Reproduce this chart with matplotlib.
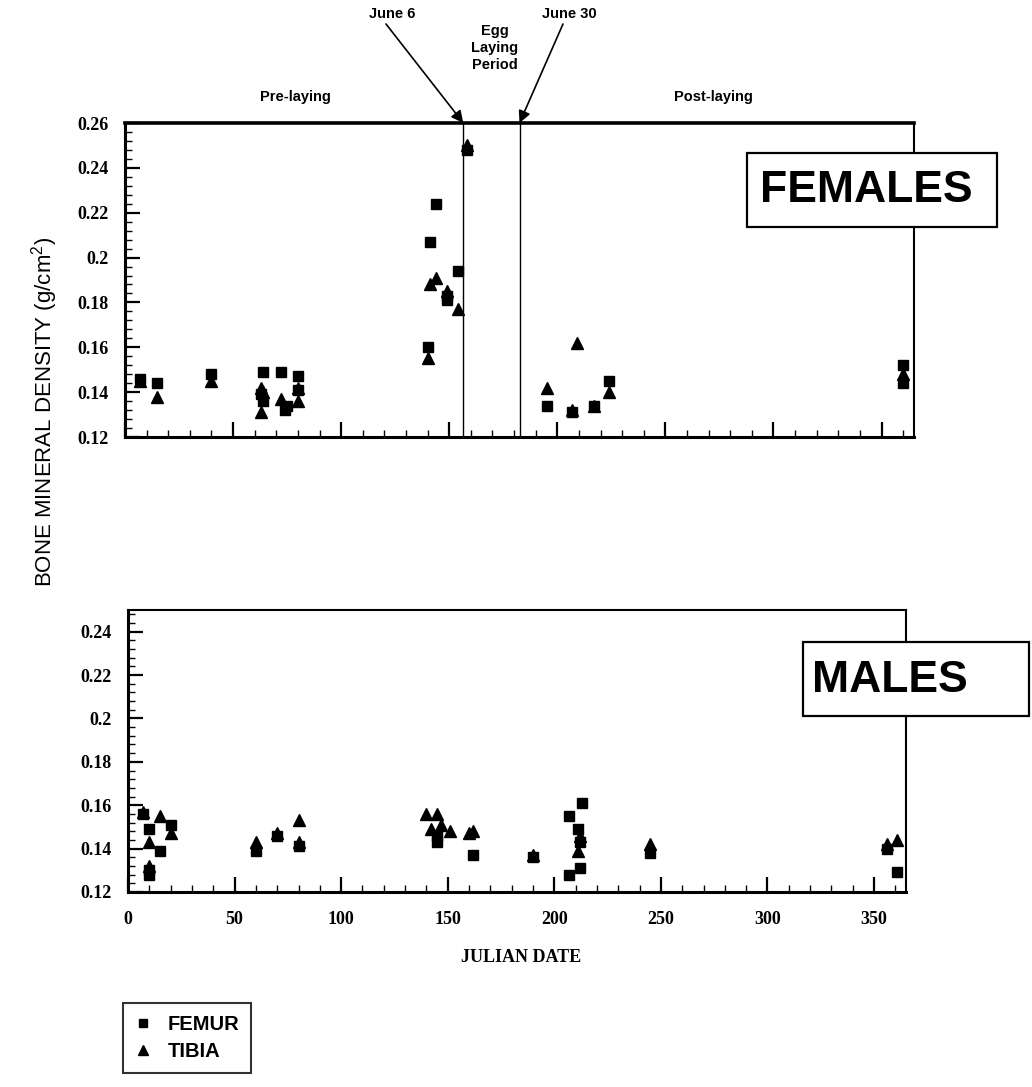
import numpy as np
from matplotlib import pyplot as plt
from matplotlib.lines import Line2D
from matplotlib.patches import Rectangle
from matplotlib.ticker import MultipleLocator

# --- data (julian day, bone mineral density g/cm2) ---
fem_femur_day = [7, 15, 40, 64, 63, 64, 72, 74, 75, 80, 80,
                 140, 141, 144, 149, 149, 154, 158,
                 195, 207, 217, 224, 360, 360]
fem_femur_bmd = [0.146, 0.144, 0.148, 0.149, 0.139, 0.136, 0.149, 0.132, 0.134, 0.147, 0.141,
                 0.160, 0.207, 0.224, 0.181, 0.183, 0.194, 0.248,
                 0.134, 0.131, 0.134, 0.145, 0.152, 0.144]
fem_tibia_day = [7, 15, 40, 63, 64, 63, 72, 80, 80,
                 140, 141, 144, 149, 154, 158,
                 195, 209, 207, 217, 224, 360]
fem_tibia_bmd = [0.145, 0.138, 0.145, 0.142, 0.140, 0.131, 0.137, 0.142, 0.136,
                 0.155, 0.188, 0.191, 0.185, 0.177, 0.250,
                 0.142, 0.162, 0.132, 0.134, 0.140, 0.148]

male_femur_day = [7, 10, 10, 10, 15, 20, 60, 70, 80, 145, 145, 162,
                  190, 207, 207, 213, 212, 211, 212, 245, 356, 361]
male_femur_bmd = [0.156, 0.149, 0.128, 0.130, 0.139, 0.151, 0.139, 0.146, 0.141, 0.143, 0.146, 0.137,
                  0.136, 0.155, 0.128, 0.161, 0.131, 0.149, 0.143, 0.138, 0.140, 0.129]
male_tibia_day = [7, 10, 10, 15, 20, 60, 70, 80, 80, 140, 145, 142, 147, 151, 160, 162,
                  190, 212, 211, 245, 356, 361]
male_tibia_bmd = [0.157, 0.143, 0.132, 0.155, 0.147, 0.143, 0.147, 0.153, 0.143,
                  0.156, 0.156, 0.149, 0.151, 0.148, 0.147, 0.148,
                  0.137, 0.146, 0.139, 0.142, 0.142, 0.144]

laying_start = 156.5  # June 6
laying_end = 182.5    # June 30

SANS = "Liberation Sans"
SERIF = "Liberation Serif"
plt.rcParams["mathtext.default"] = "regular"

W, H = 1032, 1087
fig = plt.figure(figsize=(W / 100, H / 100), dpi=100)


def fx(px):
    return px / W


def fy(py):
    return 1 - py / H


def style_axes(ax, ylim, yticks):
    ax.set_xlim(0, 365)
    ax.set_ylim(*ylim)
    ax.set_yticks(yticks)
    ax.set_yticklabels([f"{v:g}" for v in yticks])
    ax.xaxis.set_major_locator(MultipleLocator(50))
    ax.xaxis.set_minor_locator(MultipleLocator(10))
    ax.yaxis.set_minor_locator(MultipleLocator(0.004))
    ax.tick_params(which="major", direction="in", length=11, width=1.6,
                   top=False, right=False)
    ax.tick_params(which="minor", direction="in", length=5, width=1.0,
                   top=False, right=False)
    for lab in ax.get_xticklabels() + ax.get_yticklabels():
        lab.set_fontfamily(SERIF)
        lab.set_fontweight("bold")
        lab.set_fontsize(13)
    ax.tick_params(axis="y", pad=12)
    ax.tick_params(axis="x", pad=14)
    for side in ["left", "bottom"]:
        ax.spines[side].set_linewidth(2.2)
    for side in ["top", "right"]:
        ax.spines[side].set_linewidth(1.5)


def draw_points(ax, fd, fv, td, tv):
    ax.plot(td, tv, "^", color="k", markersize=8, linestyle="none")
    ax.plot(fd, fv, "s", color="k", markersize=7, linestyle="none")


# females
ax1 = fig.add_axes([fx(125), fy(437), fx(789), 314 / H])
draw_points(ax1, fem_femur_day, fem_femur_bmd, fem_tibia_day, fem_tibia_bmd)
style_axes(ax1, (0.12, 0.26), np.arange(0.12, 0.261, 0.02).round(2))
ax1.spines["top"].set_linewidth(2.6)
ax1.tick_params(axis="x", labelbottom=False)
ax1.axvline(laying_start, color="k", lw=1)
ax1.axvline(laying_end, color="k", lw=1)

# males
ax2 = fig.add_axes([fx(128), fy(892), fx(778), 282 / H])
draw_points(ax2, male_femur_day, male_femur_bmd, male_tibia_day, male_tibia_bmd)
style_axes(ax2, (0.12, 0.25), np.arange(0.12, 0.241, 0.02).round(2))

# period labels and arrows
bold_sans = dict(family=SANS, fontweight="bold", fontsize=10.5, ha="center", va="center")
fig.text(fx(295), fy(97), "Pre-laying", **bold_sans)
fig.text(fx(713), fy(97), "Post-laying", **bold_sans)
fig.text(fx(392), fy(14), "June 6", **bold_sans)
fig.text(fx(569), fy(14), "June 30", **bold_sans)
fig.text(fx(495), fy(48), "Egg\nLaying\nPeriod", linespacing=1.3, **bold_sans)

arrow = dict(arrowstyle="-|>", color="k", lw=1.2, mutation_scale=18,
             shrinkA=0, shrinkB=0)
ax1.annotate("", xy=(laying_start, 0.26), xycoords="data",
             xytext=(fx(386), fy(24)), textcoords="figure fraction", arrowprops=arrow)
ax1.annotate("", xy=(laying_end, 0.26), xycoords="data",
             xytext=(fx(563), fy(24)), textcoords="figure fraction", arrowprops=arrow)

# panel title boxes
fig.patches.append(Rectangle((fx(747), fy(227)), fx(250), 74 / H, transform=fig.transFigure,
                             facecolor="white", edgecolor="k", lw=1.6, zorder=5))
fig.text(fx(760), fy(190), "FEMALES", family=SANS, fontweight="bold", fontsize=32,
         ha="left", va="center", zorder=6)
fig.patches.append(Rectangle((fx(803), fy(716)), fx(226), 74 / H, transform=fig.transFigure,
                             facecolor="white", edgecolor="k", lw=1.6, zorder=5))
fig.text(fx(812), fy(680), "MALES", family=SANS, fontweight="bold", fontsize=32,
         ha="left", va="center", zorder=6)

# axis titles
fig.text(fx(45), fy(412), "BONE MINERAL DENSITY (g/cm$^2$)", family=SANS, fontsize=16,
         rotation=90, ha="center", va="center")
fig.text(fx(521), fy(958), "JULIAN DATE", family=SERIF, fontweight="bold", fontsize=13,
         ha="center", va="center")

# legend
handles = [Line2D([], [], marker="s", color="k", linestyle="none", markersize=5.5),
           Line2D([], [], marker="^", color="k", linestyle="none", markersize=6.5)]
leg = fig.legend(handles, ["FEMUR", "TIBIA"], loc="upper left",
                 bbox_to_anchor=(fx(123), fy(1003)), borderaxespad=0,
                 frameon=True, fancybox=False,
                 prop=dict(family=SANS, weight="bold", size=14.5), handlelength=0.8,
                 handletextpad=0.8, borderpad=0.6, labelspacing=0.4)
leg.get_frame().set_edgecolor("k")
leg.get_frame().set_linewidth(1.5)

fig.savefig("out.png", dpi=100)
